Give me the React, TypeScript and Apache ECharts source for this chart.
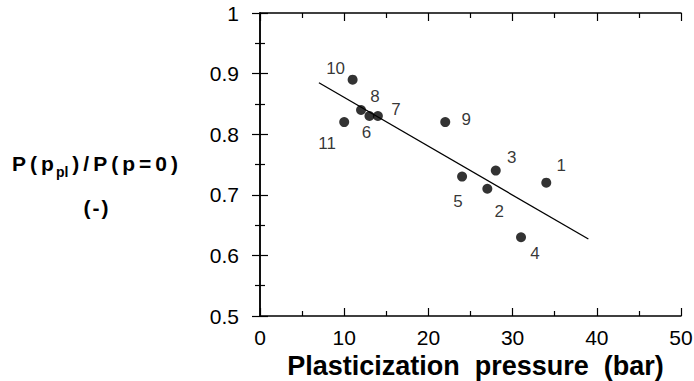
import React, { useEffect, useRef } from "react";
import * as echarts from "echarts";

const pointIds = ["1", "2", "3", "4", "5", "6", "7", "8", "9", "10", "11"];
const pressure = [34, 27, 28, 31, 24, 13, 14, 12, 22, 11, 10];
const ratio = [0.72, 0.71, 0.74, 0.63, 0.73, 0.83, 0.83, 0.84, 0.82, 0.89, 0.82];
const fitX = [7, 39];
const fitY = [0.885, 0.627];

// label offsets (style only)
const labelOffsets: [number, number][] = [
  [15, -17], [12, 23], [16, -13], [14, 16], [-4, 25], [-3, 16],
  [18, -7], [14, -13], [21, -3], [-17, -11], [-17, 21],
];

const FONT = "Liberation Sans, Arial, sans-serif";

function spaced(text: string, token: string) {
  return text.split("").map((c) => `{${token}|${c}}`).join("");
}

export default function App() {
  const ref = useRef<HTMLDivElement>(null);
  useEffect(() => {
    if (!ref.current) return;
    const chart = echarts.init(ref.current, null, { renderer: "svg" });
    const axisLine = { show: true, lineStyle: { color: "#000", width: 1.5 } };
    const tick = { inside: true, length: 8, lineStyle: { color: "#000", width: 1.2 } };
    const minor = { show: true, splitNumber: 2, length: 5, lineStyle: { color: "#000", width: 1.2 } };
    const mStyle = { fontSize: 21, fontWeight: "bold", fontFamily: FONT, fill: "#000", padding: [0, 2, 0, 2] };
    chart.setOption({
      animation: false,
      backgroundColor: "#fff",
      grid: { left: 260, right: 13, top: 13, bottom: 65, containLabel: false, outerBoundsMode: "none" },
      xAxis: [
        {
          type: "value", min: 0, max: 50, interval: 10,
          axisLine, splitLine: { show: false },
          axisTick: tick, minorTick: minor,
          axisLabel: { color: "#000", fontSize: 21, fontFamily: FONT, margin: 11 },
          name: "Plasticization  pressure  (bar)",
          nameLocation: "middle", nameGap: 36, nameMoveOverlap: false,
          nameTextStyle: { color: "#000", fontSize: 27, fontWeight: "bold", fontFamily: FONT, padding: [0, 0, 0, 10] },
        },
        {
          type: "value", min: 0, max: 50, interval: 10, position: "top",
          axisLine, splitLine: { show: false },
          axisTick: tick, minorTick: minor,
          axisLabel: { show: false },
        },
      ],
      yAxis: [
        {
          type: "value", min: 0.5, max: 1, interval: 0.1,
          axisLine, splitLine: { show: false },
          axisTick: tick, minorTick: minor,
          axisLabel: {
            color: "#000", fontSize: 21, fontFamily: FONT, margin: 21,
            formatter: (v: number) => (Math.abs(v - 1) < 1e-9 ? "1" : v.toFixed(1)),
          },
        },
        {
          type: "value", min: 0.5, max: 1, interval: 0.1, position: "right",
          axisLine, splitLine: { show: false },
          axisTick: tick, minorTick: minor,
          axisLabel: { show: false },
        },
      ],
      series: [
        {
          type: "line",
          data: fitX.map((x, i) => [x, fitY[i]]),
          symbol: "none",
          lineStyle: { color: "#000", width: 1.3 },
          silent: true,
        },
        {
          type: "scatter",
          symbolSize: 10,
          itemStyle: { color: "#000" },
          data: pressure.map((x, i) => ({
            value: [x, ratio[i]],
            label: {
              show: true,
              formatter: pointIds[i],
              position: "inside",
              offset: labelOffsets[i],
              color: "#000",
              fontSize: 17,
              fontFamily: FONT,
            },
          })),
        },
      ],
      graphic: [
        {
          type: "text",
          x: 95,
          y: 163,
          style: {
            text: spaced("P(p", "m") + "{s|pl}" + spaced(")/P(p=0)", "m"),
            align: "center",
            verticalAlign: "middle",
            rich: {
              m: mStyle,
              s: { fontSize: 14, fontWeight: "bold", fontFamily: FONT, fill: "#000", padding: [17, 2, 0, 0] },
            },
          },
        },
        {
          type: "text",
          x: 96,
          y: 207,
          style: {
            text: spaced("(-)", "m"),
            align: "center",
            verticalAlign: "middle",
            rich: { m: { ...mStyle, padding: [0, 1, 0, 1] } },
          },
        },
      ],
    });
    return () => chart.dispose();
  }, []);
  return <div ref={ref} style={{ width: 694, height: 381, position: "absolute", left: 0, top: 0 }} />;
}
